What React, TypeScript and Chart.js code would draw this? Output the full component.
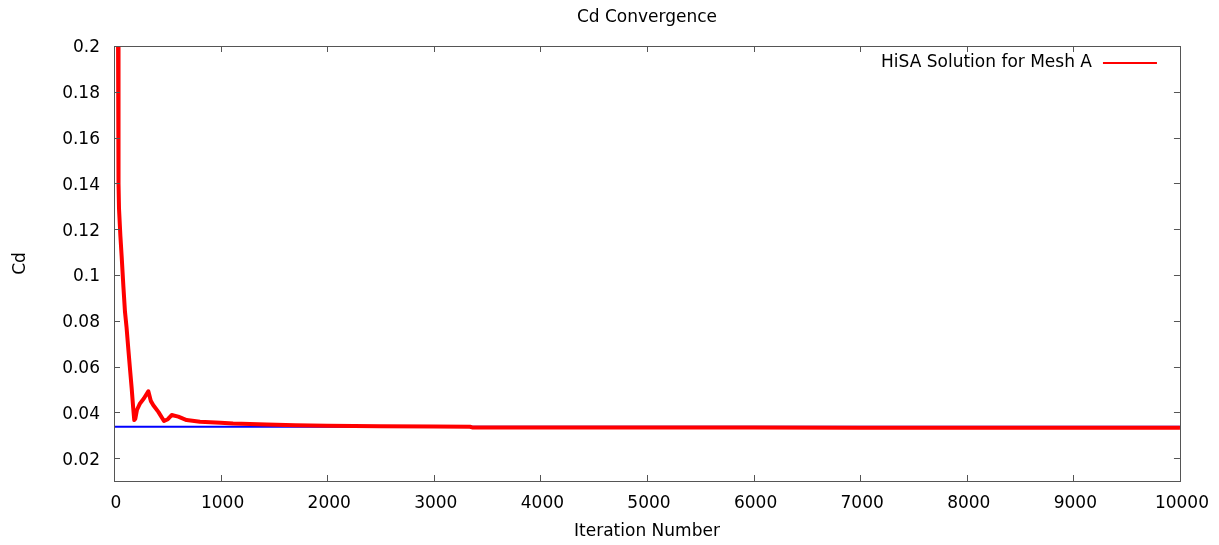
import React, { useEffect, useRef } from "react";
import { Chart, registerables } from "chart.js";

Chart.register(...registerables);

const chartTitle = "Cd Convergence";
const xAxisTitle = "Iteration Number";
const yAxisTitle = "Cd";
const seriesLabel = "HiSA Solution for Mesh A";

const iterations = [20, 38, 41, 44, 47, 60, 72, 88, 103, 118, 134, 150, 166, 180, 190, 200, 215, 244, 280, 322, 345, 369, 416, 469, 505, 541, 603, 681, 807, 1000, 1117, 1432, 1700, 2000, 2500, 3000, 3340, 3360, 4000, 5000, 6000, 7000, 8000, 9000, 10000];
const cdValues = [0.6, 0.2, 0.155, 0.14, 0.129, 0.117, 0.108, 0.095, 0.0839, 0.077, 0.0678, 0.059, 0.0504, 0.042, 0.0366, 0.0372, 0.041, 0.0439, 0.046, 0.0492, 0.045, 0.0431, 0.0402, 0.0362, 0.037, 0.0388, 0.0381, 0.0366, 0.0359, 0.0354, 0.0351, 0.0347, 0.0343, 0.0341, 0.0339, 0.0338, 0.0337, 0.0334, 0.0334, 0.0334, 0.0334, 0.0333, 0.0333, 0.0333, 0.0333];

const refIterations = [0, 10000];
const refValues = [0.0337, 0.0337];

const xTicks = [0, 1000, 2000, 3000, 4000, 5000, 6000, 7000, 8000, 9000, 10000];
const yTicks = [0.02, 0.04, 0.06, 0.08, 0.1, 0.12, 0.14, 0.16, 0.18, 0.2];

const FONT = "'DejaVu Sans', sans-serif";

const framePlugin = {
  id: "frameTicks",
  afterDraw(chart: any) {
    const { ctx, chartArea } = chart;
    const { left, right, top, bottom } = chartArea;
    const xs = chart.scales.x;
    const ys = chart.scales.y;
    ctx.save();
    ctx.strokeStyle = "#555555";
    ctx.lineWidth = 1;
    ctx.beginPath();
    const L = 6;
    xs.ticks.forEach((t: any) => {
      const px = Math.round(xs.getPixelForValue(t.value)) + 0.5;
      ctx.moveTo(px, bottom);
      ctx.lineTo(px, bottom - L);
      ctx.moveTo(px, top);
      ctx.lineTo(px, top + L);
    });
    ys.ticks.forEach((t: any) => {
      const py = Math.round(ys.getPixelForValue(t.value)) + 0.5;
      ctx.moveTo(left, py);
      ctx.lineTo(left + L, py);
      ctx.moveTo(right, py);
      ctx.lineTo(right - L, py);
    });
    ctx.stroke();
    ctx.strokeRect(Math.round(left) + 0.5, Math.round(top) + 0.5, Math.round(right - left), Math.round(bottom - top));

    // title
    ctx.fillStyle = "#000";
    ctx.font = `17px ${FONT}`;
    ctx.textAlign = "center";
    ctx.textBaseline = "middle";
    ctx.fillText(chartTitle, (left + right) / 2, 18);

    // legend
    ctx.textAlign = "right";
    ctx.fillText(seriesLabel, right - 88, top + 17);
    ctx.strokeStyle = "#ff0000";
    ctx.lineWidth = 2;
    ctx.beginPath();
    ctx.moveTo(right - 77, top + 17);
    ctx.lineTo(right - 23, top + 17);
    ctx.stroke();
    ctx.restore();
  },
};

export default function App() {
  const ref = useRef<HTMLCanvasElement>(null);

  useEffect(() => {
    document.body.style.margin = "0";
    const canvas = ref.current!;
    const chart = new Chart(canvas, {
      type: "line",
      data: {
        datasets: [
          {
            label: seriesLabel,
            data: iterations.map((x, i) => ({ x, y: cdValues[i] })),
            borderColor: "#ff0000",
            borderWidth: 4,
            borderJoinStyle: "round",
            pointRadius: 0,
            tension: 0,
            fill: false,
          },
          {
            label: "reference",
            data: refIterations.map((x, i) => ({ x, y: refValues[i] })),
            borderColor: "#0000ff",
            borderWidth: 2,
            pointRadius: 0,
            fill: false,
          },
        ],
      },
      plugins: [framePlugin],
      options: {
        animation: false,
        responsive: false,
        maintainAspectRatio: false,
        layout: { padding: { left: 0, right: 39, top: 46, bottom: 0 } },
        plugins: {
          legend: { display: false },
          title: { display: false },
          tooltip: { enabled: false },
        },
        scales: {
          x: {
            type: "linear",
            min: 0,
            max: 10000,
            afterBuildTicks: (s: any) => {
              s.ticks = xTicks.map((v) => ({ value: v }));
            },
            afterFit: (s: any) => {
              s.height = 64;
            },
            grid: { display: false, drawTicks: false },
            border: { display: false },
            ticks: {
              color: "#000",
              font: { family: FONT, size: 17 },
              padding: 12,
              labelOffset: 2,
              maxRotation: 0,
              autoSkip: false,
              callback: (v: any) => String(v),
            },
            title: {
              display: true,
              text: xAxisTitle,
              color: "#000",
              font: { family: FONT, size: 17 },
              padding: { top: 0, bottom: 3 },
            },
          },
          y: {
            type: "linear",
            min: 0.01,
            max: 0.2,
            afterBuildTicks: (s: any) => {
              s.ticks = yTicks.map((v) => ({ value: v }));
            },
            afterFit: (s: any) => {
              s.width = 114;
            },
            grid: { display: false, drawTicks: false },
            border: { display: false },
            ticks: {
              color: "#000",
              font: { family: FONT, size: 17 },
              padding: 14,
              labelOffset: 2,
              autoSkip: false,
              callback: (v: any) => String(Number(Number(v).toFixed(2))),
            },
            title: {
              display: true,
              text: yAxisTitle,
              color: "#000",
              font: { family: FONT, size: 17 },
              padding: { top: 10, bottom: 0 },
            },
          },
        },
      },
    });
    return () => chart.destroy();
  }, []);

  return (
    <div style={{ width: 1219, height: 545 }}>
      <canvas ref={ref} width={1219} height={545} style={{ width: 1219, height: 545, display: "block" }} />
    </div>
  );
}
